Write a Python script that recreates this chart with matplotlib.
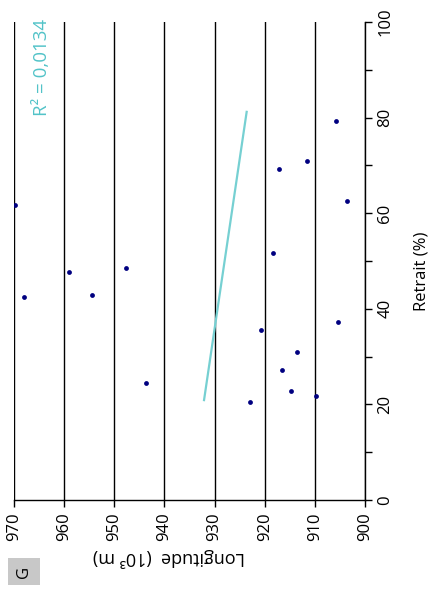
import matplotlib
matplotlib.use("Agg")
from matplotlib import pyplot as plt
from matplotlib.patches import Rectangle
from matplotlib.ticker import MultipleLocator

plt.rcParams['font.family'] = ['Open Sans', 'DejaVu Sans']

# points: longitude (10^3 m) and retrait (%)
longitude = [969.8, 968.0, 959.0, 954.4, 947.7, 943.7, 922.9, 920.7, 918.3,
             917.1, 916.5, 914.8, 913.6, 911.6, 909.8, 905.4, 905.8, 903.6]
retrait = [61.7, 42.5, 47.7, 42.9, 48.5, 24.5, 20.5, 35.6, 51.7,
           69.2, 27.2, 22.8, 31.0, 70.9, 21.8, 37.2, 79.3, 62.6]

# trend line end points
trend_lon = [932.1, 923.6]
trend_ret = [20.9, 81.2]
r2_text = "R\u00b2 = 0,0134"

W, H = 430, 590
fig = plt.figure(figsize=(W / 100, H / 100), dpi=100)
ax = fig.add_axes([14 / W, 1 - 500 / H, (365 - 14) / W, (500 - 22) / H])

# chart is drawn turned a quarter turn: longitude runs right to left
ax.set_xlim(970, 900)
ax.set_ylim(0, 100)

ax.xaxis.set_major_locator(MultipleLocator(10))
ax.yaxis.set_major_locator(MultipleLocator(20))
ax.yaxis.set_minor_locator(MultipleLocator(10))
ax.grid(axis='x', color='black', linewidth=1)
ax.set_axisbelow(True)

ax.plot(trend_lon, trend_ret, color='#76d0d2', linewidth=1.6)
ax.scatter(longitude, retrait, s=12, color='#000080', zorder=3, linewidths=0)

for s in ['top', 'left']:
    ax.spines[s].set_visible(False)
ax.spines['right'].set_linewidth(1)
ax.spines['bottom'].set_linewidth(1)

ax.yaxis.tick_right()
ax.tick_params(axis='y', which='both', direction='out', length=5, width=1, pad=4,
               labelsize=12)
ax.tick_params(axis='x', direction='out', length=5, width=1, pad=4, labelsize=12)
for lab in ax.get_xticklabels():
    lab.set_rotation(90)
    lab.set_va('top')
    lab.set_ha('center')
for lab in ax.get_yticklabels():
    lab.set_rotation(90)
    lab.set_va('center')

fig.text(169 / W, 1 - 558 / H, "Longitude  (10\u00b3 m)", rotation=180,
         ha='center', va='center', fontsize=13)
fig.text(429 / W, 1 - 271 / H, "Retrait (%)", rotation=90,
         ha='right', va='center', fontsize=12)
fig.text(42 / W, 1 - 19 / H, r2_text, rotation=90, ha='center', va='top',
         fontsize=13.5, color='#52c3c8')

fig.add_artist(Rectangle((8 / W, 1 - 585 / H), 32 / W, 27 / H,
                         transform=fig.transFigure, facecolor='#c8c8c8',
                         edgecolor='none'))
fig.text(24 / W, 1 - 571.5 / H, "G", rotation=90, ha='center', va='center',
         fontsize=12)

fig.savefig("out.png", dpi=100)
